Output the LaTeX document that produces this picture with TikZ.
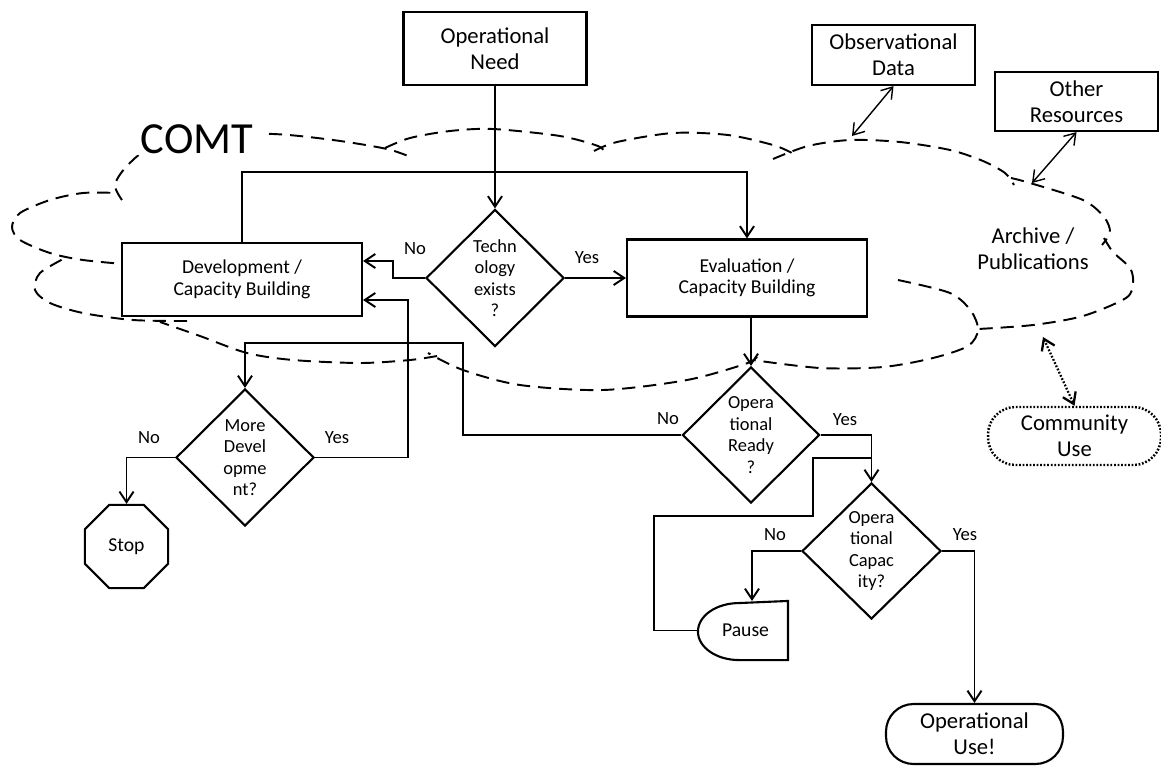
\documentclass[tikz,border=0pt]{standalone}
\usepackage{fontspec}
\setmainfont{Carlito}
\usetikzlibrary{arrows.meta, shapes.geometric}

\tikzset{
  block/.style={draw, line width=1.2pt, fill=white, align=center, inner sep=1pt},
  bigbox/.style={block, font=\fontsize{12.9}{14.8}\selectfont},
  stepbox/.style={block, minimum width=4.8cm, font=\fontsize{11.2}{12.3}\selectfont},
  decision/.style={block, diamond, inner sep=0pt, font=\fontsize{10.5}{12.2}\selectfont},
  endbox/.style={block, font=\fontsize{11.2}{13}\selectfont},
  lbl/.style={inner sep=0pt, font=\fontsize{10.6}{12.2}\selectfont},
  barb/.tip={Straight Barb[length=6pt, width=8pt]},
  flow/.style={line width=1.1pt, -barb},
  link/.style={line width=0.8pt, barb-barb},
  cloudline/.style={line width=1.1pt, dash pattern=on 7.5pt off 4.5pt},
}

\begin{document}
\begin{tikzpicture}[x=0.02cm, y=-0.02cm]
  \useasboundingbox (0,0) rectangle (1161,765);

  \draw[cloudline] plot[smooth] coordinates {(122,200) (115,185) (126,167) (150,148) (200,135) (273,134) (333,140) (387,149) (413,158)};
  \draw[cloudline] plot[smooth] coordinates {(385,148) (410,138) (450,131) (493,129) (560,136) (598,146) (604,152)};
  \draw[cloudline] plot[smooth] coordinates {(594,151) (617,142) (673,133) (728,135) (773,145) (792,153)};
  \draw[cloudline] plot[smooth] coordinates {(773,159) (808,146) (850,140) (900,142) (950,150) (983,161) (1005,173) (1014,185)};
  \draw[cloudline] plot[smooth] coordinates {(1011,178) (1030,183) (1083,200) (1104,217) (1110,232) (1102,245)};
  \draw[cloudline] plot[smooth] coordinates {(1104,238) (1113,252) (1130,268) (1133,283) (1126,298) (1083,316) (1033,325) (978,329)};
  \draw[cloudline] plot[smooth] coordinates {(898,280) (950,293) (971,311) (978,330) (968,346) (933,358) (883,367) (820,368) (753,360)};
  \draw[cloudline] plot[smooth] coordinates {(757,357) (745,364) (687,380) (603,390) (520,385) (463,370) (428,353)};
  \draw[cloudline] plot[smooth] coordinates {(437,356) (410,360) (360,363) (293,360) (247,353) (200,336) (160,322)};
  \draw[cloudline] plot[smooth] coordinates {(187,321) (133,320) (83,313) (50,303) (35,290) (40,273) (67,257)};
  \draw[cloudline] plot[smooth] coordinates {(135,265) (83,260) (50,253) (20,240) (12,227) (20,213) (50,200) (83,193) (118,193)};

  \node[bigbox, minimum width=3.66cm, minimum height=1.46cm] (need) at (495,48.5) {Operational\\Need};
  \node[bigbox, minimum width=3.26cm, minimum height=1.2cm] (obs) at (893.5,55) {Observational\\Data};
  \node[bigbox, minimum width=3.26cm, minimum height=1.18cm] (other) at (1076.5,101.5) {Other\\Resources};
  \node[anchor=base, fill=white, inner ysep=1pt, inner xsep=0.3cm, font=\fontsize{25.3}{30}\selectfont] (comt) at (197,153) {COMT};
  \node[decision, minimum width=2.76cm, minimum height=2.74cm] (tech) at (495,278) {Techn\\ology\\exists\\?};
  \node[stepbox, minimum height=1.46cm] (dev) at (242,279.5) {Development /\\Capacity Building};
  \node[stepbox, minimum height=1.54cm] (eval) at (747,278) {Evaluation /\\Capacity Building};
  \node[align=center, font=\fontsize{12.9}{14.8}\selectfont] (archive) at (1033,249) {Archive /\\Publications};
  \node[decision, minimum width=2.74cm, minimum height=2.72cm] (ready) at (751,435) {Opera\\tional\\Ready\\?};
  \node[bigbox, line width=1.4pt, dash pattern=on 1pt off 1pt, rounded corners=0.55cm, minimum width=3.46cm, minimum height=1.16cm] (community) at (1074.5,436) {Community\\Use};
  \node[decision, minimum width=2.76cm, minimum height=2.74cm] (more) at (245,457.5) {More\\Devel\\opme\\nt?};
  \node[endbox, regular polygon, regular polygon sides=8, minimum size=1.8cm] (stop) at (126.5,546.5) {Stop};
  \node[decision, minimum width=2.78cm, minimum height=2.72cm] (capacity) at (871.5,551) {Opera\\tional\\Capac\\ity?};
  \node[endbox, draw=none, fill=none, minimum width=1.76cm, minimum height=1.14cm] (pause) at (743,630.5) {\hspace{0.1cm}Pause};
  \draw[line width=1.2pt] (pause.north east) -- (pause.south east) -- ([xshift=0.82cm]pause.south west) arc[start angle=270, end angle=90, x radius=0.82cm, y radius=0.57cm] -- cycle;
  \node[bigbox, rounded corners=0.55cm, minimum width=3.54cm, minimum height=1.2cm] (use) at (974.5,734) {Operational\\Use!};

  \coordinate (top) at (0,172);
  \coordinate (devyes) at (408,300);
  \coordinate (loopa) at (463,343);
  \coordinate (loopb) at (654,516);
  \coordinate (loopc) at (813,458);
  \coordinate (obsend) at (852,136);
  \coordinate (otherend) at (1032,183);
  \coordinate (pubend) at (1043,337);

  \draw[flow] (need) -- (tech);
  \draw[flow] (tech.west) -- ++(-32,0) |- ([yshift=0.37cm]dev.east);
  \draw[flow] (tech) -- (eval);
  \draw[flow] (dev.north) -- (dev.north |- top) -| (eval.north);
  \draw[flow] (eval.south -| ready.north) -- (ready.north);
  \draw[flow] (ready.west) -| (loopa) -| (more.north);
  \draw[flow] (more.east) -| (devyes) -- (devyes -| dev.east);
  \draw[flow] (more.west) -| (stop.north);
  \draw[flow] (ready.east) -| (capacity.north);
  \draw[flow] (capacity.west) -| ([xshift=0.18cm]pause.north);
  \draw[flow] (capacity.east) -| (use.north);
  \draw[line width=1.1pt] (pause.west) -| (loopb) -| (loopc) -- (loopc -| capacity.north);
  \draw[link] (obs.south) -- (obsend);
  \draw[link] (other.south) -- (otherend);
  \draw[link, line width=1.3pt, dash pattern=on 1pt off 1pt] (pubend) -- (community.north);

  \node[lbl] (techno) at (415,249) {No};
  \node[lbl] (techyes) at (587,258) {Yes};
  \node[lbl] (readyno) at (668,419) {No};
  \node[lbl] (readyyes) at (845,420) {Yes};
  \node[lbl] (moreno) at (149,438) {No};
  \node[lbl] (moreyes) at (337,438) {Yes};
  \node[lbl] (capno) at (775,535) {No};
  \node[lbl] (capyes) at (965,535) {Yes};
\end{tikzpicture}
\end{document}
